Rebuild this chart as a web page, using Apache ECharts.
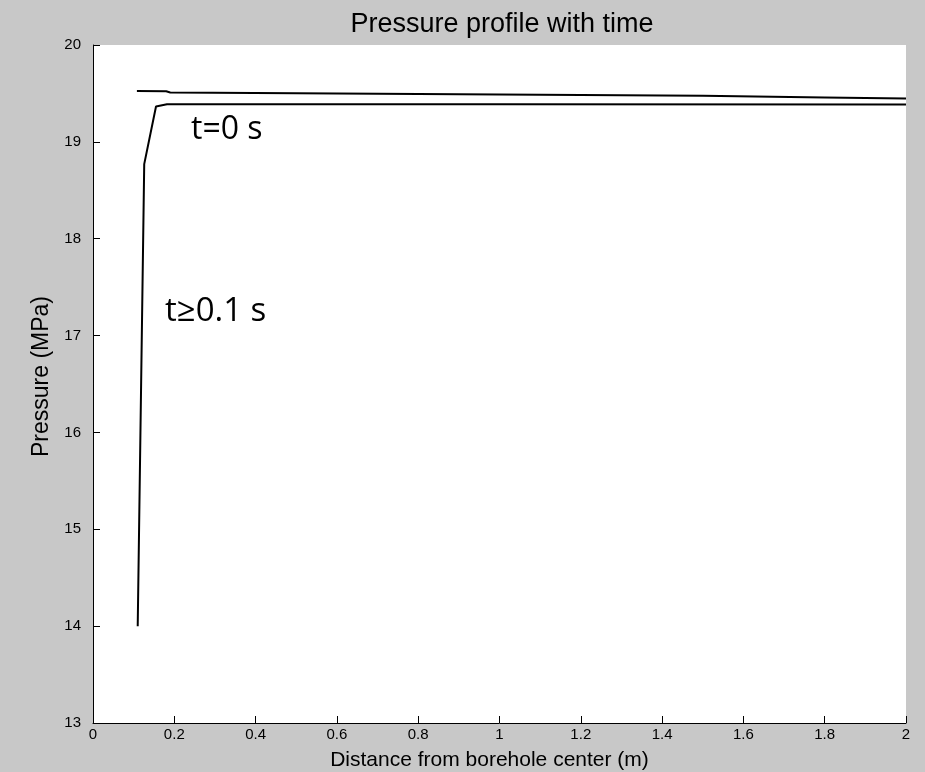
<!DOCTYPE html>
<html>
<head>
<meta charset="utf-8">
<script src="https://cdn.jsdelivr.net/npm/echarts@6/dist/echarts.min.js"></script>
<style>
  html, body { margin: 0; padding: 0; background: #c8c8c8; }
  #main { width: 925px; height: 772px; }
</style>
</head>
<body>
<div id="main"></div>
<script>
// pressure at t=0 (upper curve)
var t0Line = [
  [0.108, 19.524], [0.18, 19.522], [0.19, 19.51], [0.5, 19.503],
  [1.0, 19.49], [1.5, 19.476], [1.8, 19.458], [2.0, 19.448]
];
// pressure at t>=0.1 s (lower curve)
var t1Line = [
  [0.11, 14.0], [0.126, 18.77], [0.155, 19.365], [0.182, 19.389],
  [1.0, 19.388], [2.0, 19.385]
];
var xTicks = [0, 0.2, 0.4, 0.6, 0.8, 1, 1.2, 1.4, 1.6, 1.8, 2];

var myChart = echarts.init(document.getElementById('main'));

var tickFont = '"Liberation Sans Narrow", "Liberation Sans"';

var option = {
    backgroundColor: '#c8c8c8',
    animation: false,
    title: {
        text: 'Pressure profile with time',
        left: 497,
        textAlign: 'center',
        top: 6,
        textStyle: { fontFamily: 'Liberation Sans', fontSize: 27, fontWeight: 'normal', color: '#000' }
    },
    grid: {
        left: 93, right: 19, top: 45, bottom: 49,
        outerBoundsMode: 'none',
        show: true, backgroundColor: '#fff', borderWidth: 0
    },
    xAxis: {
        type: 'value',
        min: 0, max: 2, interval: 0.2,
        name: 'Distance from borehole center (m)',
        nameLocation: 'middle',
        nameGap: 27,
        nameTextStyle: { fontFamily: 'Liberation Sans', fontSize: 21, color: '#000', padding: [0, 20, 0, 0] },
        axisLine: { lineStyle: { color: '#000', width: 1 } },
        axisTick: { inside: true, length: 7, lineStyle: { color: '#000' } },
        axisLabel: {
            fontFamily: tickFont, fontSize: 15, color: '#000', margin: 4,
            formatter: function (v) { return xTicks.indexOf(+v.toFixed(1)) >= 0 ? String(+v.toFixed(1)) : ''; }
        },
        splitLine: { show: false }
    },
    yAxis: {
        type: 'value',
        min: 13, max: 20, interval: 1,
        name: 'Pressure (MPa)',
        nameLocation: 'middle',
        nameGap: 40,
        nameTextStyle: { fontFamily: 'Liberation Sans', fontSize: 23, color: '#000', padding: [0, 0, 0, 15] },
        axisLine: { lineStyle: { color: '#000', width: 1 } },
        axisTick: { inside: true, length: 7, lineStyle: { color: '#000' } },
        axisLabel: { fontFamily: tickFont, fontSize: 15, color: '#000', margin: 12 },
        splitLine: { show: false }
    },
    graphic: [
        { type: 'text', left: 191, top: 114, style: { text: 't=0 s', font: '32px "Open Sans", "DejaVu Sans"', fill: '#000' } },
        { type: 'text', left: 165, top: 295, style: { text: 't\u22650.1 s', font: '33px "Open Sans", "DejaVu Sans"', fill: '#000' } }
    ],
    series: [
        {
            name: 't=0 s', type: 'line', data: t0Line, showSymbol: false,
            lineStyle: { color: '#000', width: 2 }
        },
        {
            name: 't>=0.1 s', type: 'line', data: t1Line, showSymbol: false,
            lineStyle: { color: '#000', width: 2 }
        }
    ]
};

myChart.setOption(option);
</script>
</body>
</html>
